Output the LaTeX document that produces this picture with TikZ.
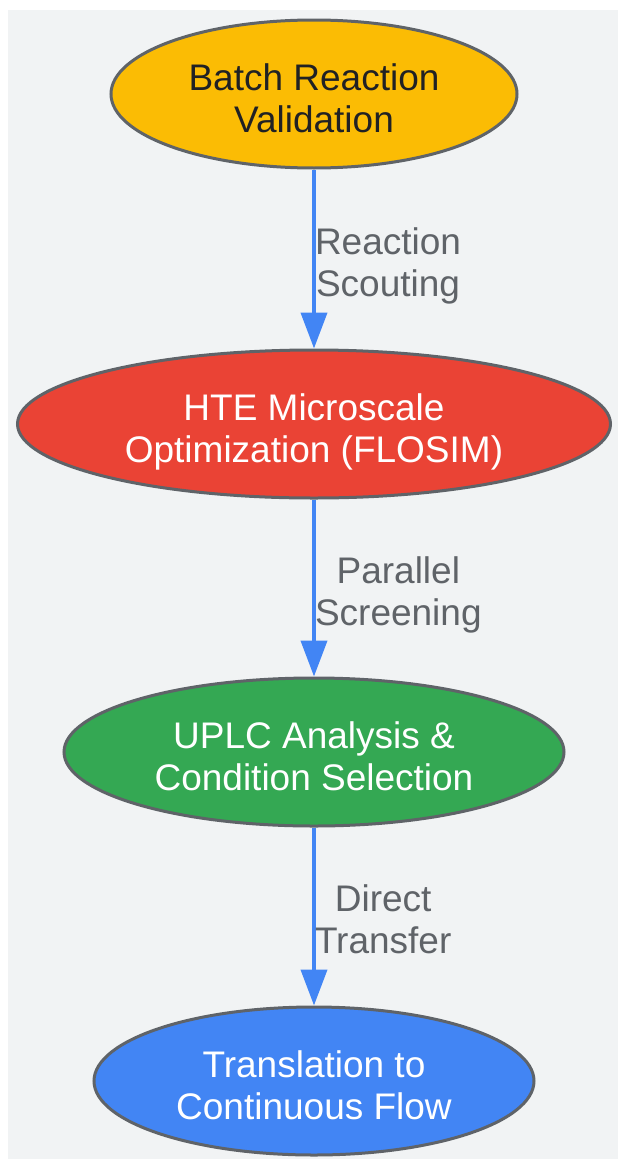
\documentclass[tikz,border=0pt]{standalone}
\usepackage{fontspec}
\setmainfont{Liberation Sans}
\usetikzlibrary{shapes.geometric,arrows.meta}
\definecolor{bgGray}{HTML}{F1F3F4}
\definecolor{borderGray}{HTML}{5F6368}
\definecolor{labelGray}{HTML}{5F6368}
\definecolor{darkText}{HTML}{202124}
\definecolor{gYellow}{HTML}{FBBC04}
\definecolor{gRed}{HTML}{EA4335}
\definecolor{gGreen}{HTML}{34A853}
\definecolor{gBlue}{HTML}{4285F4}
\tikzstyle{stage} = [ellipse, draw=borderGray, line width=3pt, inner sep=0pt, minimum height=148pt, align=center, text height=76pt, text depth=0pt, text=white, font=\fontsize{37}{42}\selectfont]
\tikzstyle{arrow} = [line width=4pt, draw=gBlue, -{Triangle[length=36pt,width=26pt]}]
\tikzstyle{edgelabel} = [anchor=west, inner sep=0pt, xshift=-1pt, align=center, text height=74pt, text depth=0pt, text=labelGray, font=\fontsize{37}{42}\selectfont]

\begin{document}
\begin{tikzpicture}[x=1pt,y=-1pt]
    \useasboundingbox (0,0) rectangle (618,1159);
    \fill[bgGray] (8,10) rectangle (618,1159);

    \node (batch) [stage, fill=gYellow, text=darkText, minimum width=406pt] at (314,94) {Batch Reaction\\Validation};
    \node (hte) [stage, fill=gRed, minimum width=593pt, below of=batch, node distance=330pt] {HTE Microscale\\Optimization (FLOSIM)};
    \node (uplc) [stage, fill=gGreen, minimum width=500pt, below of=hte, node distance=328pt] {UPLC Analysis \&\\Condition Selection};
    \node (flow) [stage, fill=gBlue, minimum width=440pt, below of=uplc, node distance=329pt] {Translation to\\Continuous Flow};

    \draw [arrow] (batch) -- node[edgelabel] {Reaction\\Scouting} (hte);
    \draw [arrow] (hte) -- node[edgelabel] {Parallel\\Screening} (uplc);
    \draw [arrow] (uplc) -- node[edgelabel] {Direct\\Transfer} (flow);
\end{tikzpicture}
\end{document}
